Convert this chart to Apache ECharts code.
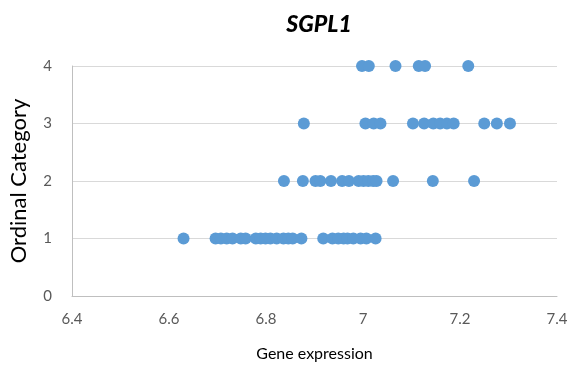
<!DOCTYPE html>
<html>
<head>
<meta charset="utf-8">
<script src="https://cdn.jsdelivr.net/npm/echarts@6/dist/echarts.min.js"></script>
<style>
  html, body { margin: 0; padding: 0; background: #fff; }
  #chart { width: 574px; height: 369px; }
</style>
</head>
<body>
<div id="chart"></div>
<script>
// gene expression values for each ordinal category
const cat1 = [6.630, 6.696, 6.707, 6.719, 6.731, 6.748, 6.758, 6.779, 6.789, 6.799, 6.809, 6.822,
  6.836, 6.846, 6.855, 6.873, 6.918, 6.937, 6.949, 6.960, 6.968, 6.980, 6.995, 7.007, 7.026];
const cat2 = [6.837, 6.876, 6.902, 6.912, 6.934, 6.957, 6.971, 6.991, 7.001, 7.011, 7.021, 7.028,
  7.062, 7.144, 7.229];
const cat3 = [6.878, 7.005, 7.022, 7.036, 7.103, 7.126, 7.145, 7.159, 7.173, 7.187, 7.250, 7.276, 7.303];
const cat4 = [6.998, 7.012, 7.067, 7.115, 7.128, 7.217];

const groups = [[1, cat1], [2, cat2], [3, cat3], [4, cat4]];
const points = [];
groups.forEach(([c, xs]) => xs.forEach((x) => points.push([x, c])));

const fontFam = 'Lato, "Open Sans", sans-serif';
const chart = echarts.init(document.getElementById('chart'));
chart.setOption({
  animation: false,
  title: {
    text: 'SGPL1',
    left: 314,
    textAlign: 'center',
    top: 8,
    textStyle: { fontFamily: fontFam, fontSize: 23, fontWeight: 900, fontStyle: 'italic', color: '#000' },
  },
  grid: { left: 71, right: 17, top: 66, bottom: 73 },
  xAxis: {
    type: 'value',
    min: 6.4,
    max: 7.4,
    interval: 0.2,
    name: 'Gene expression',
    nameLocation: 'middle',
    nameGap: 50,
    nameTextStyle: { fontFamily: fontFam, fontSize: 16, color: '#000' },
    axisLine: { show: true, lineStyle: { color: '#bfbfbf', width: 1 } },
    axisTick: { show: false },
    splitLine: { show: false },
    axisLabel: { fontFamily: fontFam, fontSize: 15, color: '#595959', margin: 16 },
  },
  yAxis: {
    type: 'value',
    min: 0,
    max: 4,
    interval: 1,
    name: 'Ordinal Category',
    nameLocation: 'middle',
    nameGap: 42,
    nameTextStyle: { fontFamily: fontFam, fontSize: 22, color: '#000' },
    axisLine: { show: true, lineStyle: { color: '#bfbfbf', width: 1 } },
    axisTick: { show: false },
    splitLine: { lineStyle: { color: '#d9d9d9', width: 1 } },
    axisLabel: { fontFamily: fontFam, fontSize: 15, color: '#595959', margin: 20 },
  },
  series: [
    {
      type: 'scatter',
      symbol: 'circle',
      symbolSize: 12,
      itemStyle: { color: '#5b9bd5', opacity: 1 },
      data: points,
    },
  ],
});
</script>
</body>
</html>
